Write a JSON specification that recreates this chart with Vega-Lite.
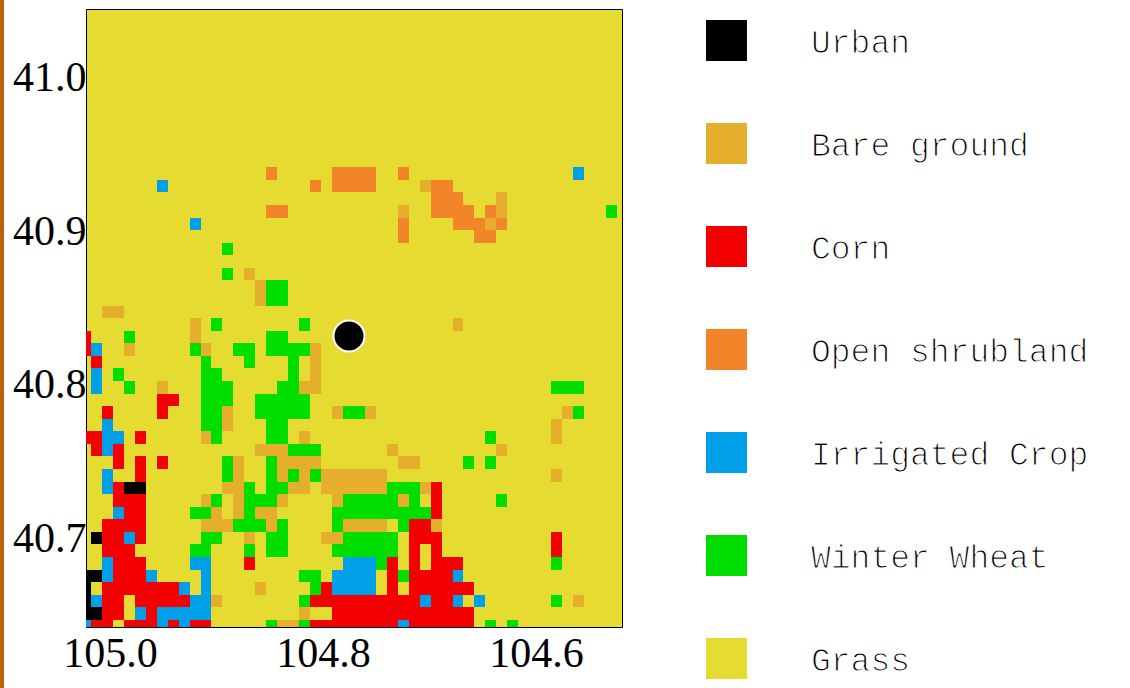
{"$schema":"https://vega.github.io/schema/vega-lite/v6.json","width":536,"height":618,"autosize":{"type":"none"},"padding":{"left":86,"top":9,"right":508,"bottom":61},"background":"#ffffff","view":{"fill":"#e6db30","stroke":"#000000","strokeWidth":1},
"datasets":{
"cols":[{"c":0,"lon":105.0281,"lon2":105.0178},{"c":1,"lon":105.0178,"lon2":105.0075},{"c":2,"lon":105.0075,"lon2":104.9972},{"c":3,"lon":104.9972,"lon2":104.987},{"c":4,"lon":104.987,"lon2":104.9767},{"c":5,"lon":104.9767,"lon2":104.9664},{"c":6,"lon":104.9664,"lon2":104.9561},{"c":7,"lon":104.9561,"lon2":104.9458},{"c":8,"lon":104.9458,"lon2":104.9355},{"c":9,"lon":104.9355,"lon2":104.9253},{"c":10,"lon":104.9253,"lon2":104.915},{"c":11,"lon":104.915,"lon2":104.9047},{"c":12,"lon":104.9047,"lon2":104.8944},{"c":13,"lon":104.8944,"lon2":104.8841},{"c":14,"lon":104.8841,"lon2":104.8738},{"c":15,"lon":104.8738,"lon2":104.8635},{"c":16,"lon":104.8635,"lon2":104.8533},{"c":17,"lon":104.8533,"lon2":104.843},{"c":18,"lon":104.843,"lon2":104.8327},{"c":19,"lon":104.8327,"lon2":104.8224},{"c":20,"lon":104.8224,"lon2":104.8121},{"c":21,"lon":104.8121,"lon2":104.8018},{"c":22,"lon":104.8018,"lon2":104.7916},{"c":23,"lon":104.7916,"lon2":104.7813},{"c":24,"lon":104.7813,"lon2":104.771},{"c":25,"lon":104.771,"lon2":104.7607},{"c":26,"lon":104.7607,"lon2":104.7504},{"c":27,"lon":104.7504,"lon2":104.7401},{"c":28,"lon":104.7401,"lon2":104.7298},{"c":29,"lon":104.7298,"lon2":104.7196},{"c":30,"lon":104.7196,"lon2":104.7093},{"c":31,"lon":104.7093,"lon2":104.699},{"c":32,"lon":104.699,"lon2":104.6887},{"c":33,"lon":104.6887,"lon2":104.6784},{"c":34,"lon":104.6784,"lon2":104.6681},{"c":35,"lon":104.6681,"lon2":104.6578},{"c":36,"lon":104.6578,"lon2":104.6476},{"c":37,"lon":104.6476,"lon2":104.6373},{"c":38,"lon":104.6373,"lon2":104.627},{"c":39,"lon":104.627,"lon2":104.6167},{"c":43,"lon":104.5859,"lon2":104.5756},{"c":44,"lon":104.5756,"lon2":104.5653},{"c":45,"lon":104.5653,"lon2":104.555},{"c":48,"lon":104.5344,"lon2":104.5241}],
"rows":[{"r":0,"lat":40.6385,"lat2":40.6467},{"r":1,"lat":40.6467,"lat2":40.6549},{"r":2,"lat":40.6549,"lat2":40.6631},{"r":3,"lat":40.6631,"lat2":40.6712},{"r":4,"lat":40.6712,"lat2":40.6794},{"r":5,"lat":40.6794,"lat2":40.6876},{"r":6,"lat":40.6876,"lat2":40.6958},{"r":7,"lat":40.6958,"lat2":40.704},{"r":8,"lat":40.704,"lat2":40.7122},{"r":9,"lat":40.7122,"lat2":40.7204},{"r":10,"lat":40.7204,"lat2":40.7285},{"r":11,"lat":40.7285,"lat2":40.7367},{"r":12,"lat":40.7367,"lat2":40.7449},{"r":13,"lat":40.7449,"lat2":40.7531},{"r":14,"lat":40.7531,"lat2":40.7613},{"r":15,"lat":40.7613,"lat2":40.7695},{"r":16,"lat":40.7695,"lat2":40.7776},{"r":17,"lat":40.7776,"lat2":40.7858},{"r":18,"lat":40.7858,"lat2":40.794},{"r":19,"lat":40.794,"lat2":40.8022},{"r":20,"lat":40.8022,"lat2":40.8104},{"r":21,"lat":40.8104,"lat2":40.8186},{"r":22,"lat":40.8186,"lat2":40.8268},{"r":23,"lat":40.8268,"lat2":40.8349},{"r":24,"lat":40.8349,"lat2":40.8431},{"r":25,"lat":40.8431,"lat2":40.8513},{"r":26,"lat":40.8513,"lat2":40.8595},{"r":27,"lat":40.8595,"lat2":40.8677},{"r":28,"lat":40.8677,"lat2":40.8759},{"r":30,"lat":40.8841,"lat2":40.8922},{"r":31,"lat":40.8922,"lat2":40.9004},{"r":32,"lat":40.9004,"lat2":40.9086},{"r":33,"lat":40.9086,"lat2":40.9168},{"r":34,"lat":40.9168,"lat2":40.925},{"r":35,"lat":40.925,"lat2":40.9332},{"r":36,"lat":40.9332,"lat2":40.9413}],
"cells":[
{"r":0,"c":0,"t":"Irrigated Crop"},{"r":0,"c":1,"t":"Corn"},{"r":0,"c":2,"t":"Corn"},{"r":0,"c":4,"t":"Corn"},{"r":0,"c":5,"t":"Corn"},{"r":0,"c":6,"t":"Corn"},{"r":0,"c":7,"t":"Irrigated Crop"},{"r":0,"c":8,"t":"Corn"},{"r":0,"c":9,"t":"Irrigated Crop"},{"r":0,"c":10,"t":"Corn"},{"r":0,"c":11,"t":"Corn"},{"r":0,"c":17,"t":"Winter Wheat"},{"r":0,"c":18,"t":"Bare ground"},{"r":0,"c":19,"t":"Bare ground"},{"r":0,"c":20,"t":"Winter Wheat"},{"r":0,"c":21,"t":"Corn"},{"r":0,"c":22,"t":"Corn"},{"r":0,"c":23,"t":"Corn"},{"r":0,"c":24,"t":"Corn"},{"r":0,"c":25,"t":"Corn"},{"r":0,"c":26,"t":"Corn"},{"r":0,"c":27,"t":"Corn"},{"r":0,"c":28,"t":"Corn"},{"r":0,"c":29,"t":"Irrigated Crop"},{"r":0,"c":30,"t":"Corn"},{"r":0,"c":31,"t":"Corn"},{"r":0,"c":32,"t":"Corn"},{"r":0,"c":33,"t":"Corn"},{"r":0,"c":34,"t":"Corn"},{"r":0,"c":35,"t":"Corn"},{"r":0,"c":37,"t":"Winter Wheat"},{"r":0,"c":39,"t":"Winter Wheat"},
{"r":1,"c":0,"t":"Urban"},{"r":1,"c":1,"t":"Urban"},{"r":1,"c":2,"t":"Corn"},{"r":1,"c":3,"t":"Corn"},{"r":1,"c":5,"t":"Irrigated Crop"},{"r":1,"c":6,"t":"Corn"},{"r":1,"c":7,"t":"Irrigated Crop"},{"r":1,"c":8,"t":"Irrigated Crop"},{"r":1,"c":9,"t":"Irrigated Crop"},{"r":1,"c":10,"t":"Irrigated Crop"},{"r":1,"c":11,"t":"Irrigated Crop"},{"r":1,"c":20,"t":"Bare ground"},{"r":1,"c":23,"t":"Corn"},{"r":1,"c":24,"t":"Corn"},{"r":1,"c":25,"t":"Corn"},{"r":1,"c":26,"t":"Corn"},{"r":1,"c":27,"t":"Corn"},{"r":1,"c":28,"t":"Corn"},{"r":1,"c":29,"t":"Corn"},{"r":1,"c":30,"t":"Corn"},{"r":1,"c":31,"t":"Corn"},{"r":1,"c":32,"t":"Corn"},{"r":1,"c":33,"t":"Corn"},{"r":1,"c":34,"t":"Corn"},{"r":1,"c":35,"t":"Corn"},
{"r":2,"c":0,"t":"Urban"},{"r":2,"c":1,"t":"Irrigated Crop"},{"r":2,"c":2,"t":"Corn"},{"r":2,"c":3,"t":"Corn"},{"r":2,"c":5,"t":"Corn"},{"r":2,"c":6,"t":"Corn"},{"r":2,"c":7,"t":"Corn"},{"r":2,"c":8,"t":"Corn"},{"r":2,"c":9,"t":"Corn"},{"r":2,"c":10,"t":"Irrigated Crop"},{"r":2,"c":11,"t":"Irrigated Crop"},{"r":2,"c":12,"t":"Bare ground"},{"r":2,"c":20,"t":"Winter Wheat"},{"r":2,"c":21,"t":"Corn"},{"r":2,"c":22,"t":"Corn"},{"r":2,"c":23,"t":"Corn"},{"r":2,"c":24,"t":"Corn"},{"r":2,"c":25,"t":"Corn"},{"r":2,"c":26,"t":"Corn"},{"r":2,"c":27,"t":"Corn"},{"r":2,"c":28,"t":"Corn"},{"r":2,"c":29,"t":"Corn"},{"r":2,"c":30,"t":"Corn"},{"r":2,"c":31,"t":"Irrigated Crop"},{"r":2,"c":32,"t":"Corn"},{"r":2,"c":33,"t":"Corn"},{"r":2,"c":34,"t":"Irrigated Crop"},{"r":2,"c":36,"t":"Irrigated Crop"},{"r":2,"c":43,"t":"Winter Wheat"},{"r":2,"c":45,"t":"Bare ground"},
{"r":3,"c":0,"t":"Urban"},{"r":3,"c":2,"t":"Corn"},{"r":3,"c":3,"t":"Corn"},{"r":3,"c":4,"t":"Corn"},{"r":3,"c":5,"t":"Corn"},{"r":3,"c":6,"t":"Corn"},{"r":3,"c":7,"t":"Corn"},{"r":3,"c":8,"t":"Corn"},{"r":3,"c":9,"t":"Irrigated Crop"},{"r":3,"c":11,"t":"Irrigated Crop"},{"r":3,"c":16,"t":"Bare ground"},{"r":3,"c":21,"t":"Winter Wheat"},{"r":3,"c":22,"t":"Corn"},{"r":3,"c":23,"t":"Irrigated Crop"},{"r":3,"c":24,"t":"Irrigated Crop"},{"r":3,"c":25,"t":"Irrigated Crop"},{"r":3,"c":26,"t":"Irrigated Crop"},{"r":3,"c":28,"t":"Corn"},{"r":3,"c":30,"t":"Corn"},{"r":3,"c":31,"t":"Corn"},{"r":3,"c":32,"t":"Corn"},{"r":3,"c":33,"t":"Corn"},{"r":3,"c":34,"t":"Corn"},{"r":3,"c":35,"t":"Corn"},
{"r":4,"c":0,"t":"Urban"},{"r":4,"c":1,"t":"Urban"},{"r":4,"c":2,"t":"Irrigated Crop"},{"r":4,"c":3,"t":"Corn"},{"r":4,"c":4,"t":"Corn"},{"r":4,"c":5,"t":"Corn"},{"r":4,"c":6,"t":"Irrigated Crop"},{"r":4,"c":11,"t":"Irrigated Crop"},{"r":4,"c":20,"t":"Winter Wheat"},{"r":4,"c":21,"t":"Winter Wheat"},{"r":4,"c":23,"t":"Irrigated Crop"},{"r":4,"c":24,"t":"Irrigated Crop"},{"r":4,"c":25,"t":"Irrigated Crop"},{"r":4,"c":26,"t":"Irrigated Crop"},{"r":4,"c":28,"t":"Corn"},{"r":4,"c":29,"t":"Winter Wheat"},{"r":4,"c":30,"t":"Corn"},{"r":4,"c":31,"t":"Corn"},{"r":4,"c":32,"t":"Corn"},{"r":4,"c":33,"t":"Corn"},{"r":4,"c":34,"t":"Irrigated Crop"},
{"r":5,"c":2,"t":"Irrigated Crop"},{"r":5,"c":3,"t":"Corn"},{"r":5,"c":4,"t":"Corn"},{"r":5,"c":5,"t":"Corn"},{"r":5,"c":10,"t":"Irrigated Crop"},{"r":5,"c":11,"t":"Irrigated Crop"},{"r":5,"c":15,"t":"Corn"},{"r":5,"c":24,"t":"Irrigated Crop"},{"r":5,"c":25,"t":"Irrigated Crop"},{"r":5,"c":26,"t":"Irrigated Crop"},{"r":5,"c":27,"t":"Winter Wheat"},{"r":5,"c":28,"t":"Corn"},{"r":5,"c":30,"t":"Corn"},{"r":5,"c":32,"t":"Corn"},{"r":5,"c":33,"t":"Corn"},{"r":5,"c":34,"t":"Corn"},{"r":5,"c":43,"t":"Winter Wheat"},
{"r":6,"c":2,"t":"Corn"},{"r":6,"c":3,"t":"Corn"},{"r":6,"c":4,"t":"Corn"},{"r":6,"c":10,"t":"Winter Wheat"},{"r":6,"c":11,"t":"Winter Wheat"},{"r":6,"c":15,"t":"Winter Wheat"},{"r":6,"c":17,"t":"Winter Wheat"},{"r":6,"c":18,"t":"Winter Wheat"},{"r":6,"c":23,"t":"Winter Wheat"},{"r":6,"c":24,"t":"Winter Wheat"},{"r":6,"c":25,"t":"Winter Wheat"},{"r":6,"c":26,"t":"Winter Wheat"},{"r":6,"c":27,"t":"Winter Wheat"},{"r":6,"c":28,"t":"Winter Wheat"},{"r":6,"c":30,"t":"Corn"},{"r":6,"c":32,"t":"Corn"},{"r":6,"c":43,"t":"Corn"},
{"r":7,"c":1,"t":"Urban"},{"r":7,"c":2,"t":"Corn"},{"r":7,"c":3,"t":"Corn"},{"r":7,"c":4,"t":"Irrigated Crop"},{"r":7,"c":5,"t":"Corn"},{"r":7,"c":11,"t":"Winter Wheat"},{"r":7,"c":12,"t":"Winter Wheat"},{"r":7,"c":15,"t":"Bare ground"},{"r":7,"c":17,"t":"Winter Wheat"},{"r":7,"c":18,"t":"Winter Wheat"},{"r":7,"c":22,"t":"Bare ground"},{"r":7,"c":23,"t":"Bare ground"},{"r":7,"c":24,"t":"Winter Wheat"},{"r":7,"c":25,"t":"Winter Wheat"},{"r":7,"c":26,"t":"Winter Wheat"},{"r":7,"c":27,"t":"Winter Wheat"},{"r":7,"c":28,"t":"Winter Wheat"},{"r":7,"c":30,"t":"Corn"},{"r":7,"c":31,"t":"Corn"},{"r":7,"c":32,"t":"Corn"},{"r":7,"c":43,"t":"Corn"},
{"r":8,"c":2,"t":"Corn"},{"r":8,"c":3,"t":"Corn"},{"r":8,"c":4,"t":"Corn"},{"r":8,"c":5,"t":"Corn"},{"r":8,"c":11,"t":"Bare ground"},{"r":8,"c":12,"t":"Bare ground"},{"r":8,"c":13,"t":"Bare ground"},{"r":8,"c":14,"t":"Winter Wheat"},{"r":8,"c":15,"t":"Winter Wheat"},{"r":8,"c":16,"t":"Winter Wheat"},{"r":8,"c":17,"t":"Bare ground"},{"r":8,"c":18,"t":"Winter Wheat"},{"r":8,"c":23,"t":"Winter Wheat"},{"r":8,"c":24,"t":"Bare ground"},{"r":8,"c":25,"t":"Bare ground"},{"r":8,"c":26,"t":"Bare ground"},{"r":8,"c":27,"t":"Bare ground"},{"r":8,"c":29,"t":"Winter Wheat"},{"r":8,"c":30,"t":"Corn"},{"r":8,"c":31,"t":"Corn"},{"r":8,"c":32,"t":"Bare ground"},
{"r":9,"c":3,"t":"Irrigated Crop"},{"r":9,"c":4,"t":"Corn"},{"r":9,"c":5,"t":"Corn"},{"r":9,"c":10,"t":"Winter Wheat"},{"r":9,"c":11,"t":"Winter Wheat"},{"r":9,"c":12,"t":"Bare ground"},{"r":9,"c":14,"t":"Bare ground"},{"r":9,"c":15,"t":"Winter Wheat"},{"r":9,"c":16,"t":"Bare ground"},{"r":9,"c":17,"t":"Bare ground"},{"r":9,"c":23,"t":"Winter Wheat"},{"r":9,"c":24,"t":"Winter Wheat"},{"r":9,"c":25,"t":"Winter Wheat"},{"r":9,"c":26,"t":"Winter Wheat"},{"r":9,"c":27,"t":"Winter Wheat"},{"r":9,"c":28,"t":"Winter Wheat"},{"r":9,"c":29,"t":"Winter Wheat"},{"r":9,"c":30,"t":"Winter Wheat"},{"r":9,"c":31,"t":"Winter Wheat"},{"r":9,"c":32,"t":"Corn"},
{"r":10,"c":3,"t":"Corn"},{"r":10,"c":4,"t":"Corn"},{"r":10,"c":5,"t":"Corn"},{"r":10,"c":11,"t":"Bare ground"},{"r":10,"c":12,"t":"Winter Wheat"},{"r":10,"c":14,"t":"Bare ground"},{"r":10,"c":15,"t":"Winter Wheat"},{"r":10,"c":16,"t":"Winter Wheat"},{"r":10,"c":17,"t":"Winter Wheat"},{"r":10,"c":18,"t":"Bare ground"},{"r":10,"c":23,"t":"Bare ground"},{"r":10,"c":24,"t":"Winter Wheat"},{"r":10,"c":25,"t":"Winter Wheat"},{"r":10,"c":26,"t":"Winter Wheat"},{"r":10,"c":27,"t":"Winter Wheat"},{"r":10,"c":28,"t":"Winter Wheat"},{"r":10,"c":29,"t":"Bare ground"},{"r":10,"c":30,"t":"Winter Wheat"},{"r":10,"c":32,"t":"Corn"},{"r":10,"c":38,"t":"Winter Wheat"},
{"r":11,"c":2,"t":"Irrigated Crop"},{"r":11,"c":3,"t":"Corn"},{"r":11,"c":4,"t":"Urban"},{"r":11,"c":5,"t":"Urban"},{"r":11,"c":13,"t":"Bare ground"},{"r":11,"c":14,"t":"Bare ground"},{"r":11,"c":15,"t":"Winter Wheat"},{"r":11,"c":17,"t":"Winter Wheat"},{"r":11,"c":18,"t":"Winter Wheat"},{"r":11,"c":19,"t":"Bare ground"},{"r":11,"c":20,"t":"Bare ground"},{"r":11,"c":22,"t":"Bare ground"},{"r":11,"c":23,"t":"Bare ground"},{"r":11,"c":24,"t":"Bare ground"},{"r":11,"c":25,"t":"Bare ground"},{"r":11,"c":26,"t":"Bare ground"},{"r":11,"c":27,"t":"Bare ground"},{"r":11,"c":28,"t":"Winter Wheat"},{"r":11,"c":29,"t":"Winter Wheat"},{"r":11,"c":30,"t":"Winter Wheat"},{"r":11,"c":31,"t":"Bare ground"},{"r":11,"c":32,"t":"Corn"},
{"r":12,"c":2,"t":"Irrigated Crop"},{"r":12,"c":5,"t":"Corn"},{"r":12,"c":13,"t":"Winter Wheat"},{"r":12,"c":14,"t":"Bare ground"},{"r":12,"c":17,"t":"Winter Wheat"},{"r":12,"c":18,"t":"Bare ground"},{"r":12,"c":19,"t":"Winter Wheat"},{"r":12,"c":20,"t":"Bare ground"},{"r":12,"c":21,"t":"Winter Wheat"},{"r":12,"c":22,"t":"Bare ground"},{"r":12,"c":23,"t":"Bare ground"},{"r":12,"c":24,"t":"Bare ground"},{"r":12,"c":25,"t":"Bare ground"},{"r":12,"c":26,"t":"Bare ground"},{"r":12,"c":27,"t":"Bare ground"},{"r":12,"c":43,"t":"Bare ground"},
{"r":13,"c":3,"t":"Corn"},{"r":13,"c":5,"t":"Corn"},{"r":13,"c":7,"t":"Corn"},{"r":13,"c":13,"t":"Winter Wheat"},{"r":13,"c":14,"t":"Bare ground"},{"r":13,"c":17,"t":"Winter Wheat"},{"r":13,"c":18,"t":"Bare ground"},{"r":13,"c":19,"t":"Bare ground"},{"r":13,"c":20,"t":"Bare ground"},{"r":13,"c":21,"t":"Bare ground"},{"r":13,"c":29,"t":"Bare ground"},{"r":13,"c":30,"t":"Bare ground"},{"r":13,"c":35,"t":"Winter Wheat"},{"r":13,"c":37,"t":"Winter Wheat"},
{"r":14,"c":1,"t":"Corn"},{"r":14,"c":2,"t":"Irrigated Crop"},{"r":14,"c":3,"t":"Corn"},{"r":14,"c":16,"t":"Bare ground"},{"r":14,"c":17,"t":"Bare ground"},{"r":14,"c":18,"t":"Bare ground"},{"r":14,"c":19,"t":"Winter Wheat"},{"r":14,"c":20,"t":"Winter Wheat"},{"r":14,"c":21,"t":"Winter Wheat"},{"r":14,"c":28,"t":"Bare ground"},{"r":14,"c":38,"t":"Bare ground"},
{"r":15,"c":0,"t":"Corn"},{"r":15,"c":1,"t":"Corn"},{"r":15,"c":2,"t":"Irrigated Crop"},{"r":15,"c":3,"t":"Irrigated Crop"},{"r":15,"c":5,"t":"Corn"},{"r":15,"c":11,"t":"Bare ground"},{"r":15,"c":12,"t":"Winter Wheat"},{"r":15,"c":17,"t":"Winter Wheat"},{"r":15,"c":18,"t":"Winter Wheat"},{"r":15,"c":20,"t":"Bare ground"},{"r":15,"c":37,"t":"Winter Wheat"},{"r":15,"c":43,"t":"Bare ground"},
{"r":16,"c":2,"t":"Irrigated Crop"},{"r":16,"c":11,"t":"Winter Wheat"},{"r":16,"c":12,"t":"Winter Wheat"},{"r":16,"c":13,"t":"Bare ground"},{"r":16,"c":17,"t":"Winter Wheat"},{"r":16,"c":18,"t":"Winter Wheat"},{"r":16,"c":43,"t":"Bare ground"},
{"r":17,"c":2,"t":"Corn"},{"r":17,"c":7,"t":"Corn"},{"r":17,"c":11,"t":"Winter Wheat"},{"r":17,"c":12,"t":"Winter Wheat"},{"r":17,"c":13,"t":"Bare ground"},{"r":17,"c":16,"t":"Winter Wheat"},{"r":17,"c":17,"t":"Winter Wheat"},{"r":17,"c":18,"t":"Winter Wheat"},{"r":17,"c":19,"t":"Winter Wheat"},{"r":17,"c":20,"t":"Winter Wheat"},{"r":17,"c":23,"t":"Bare ground"},{"r":17,"c":24,"t":"Winter Wheat"},{"r":17,"c":25,"t":"Winter Wheat"},{"r":17,"c":26,"t":"Bare ground"},{"r":17,"c":44,"t":"Bare ground"},{"r":17,"c":45,"t":"Winter Wheat"},
{"r":18,"c":7,"t":"Corn"},{"r":18,"c":8,"t":"Corn"},{"r":18,"c":11,"t":"Winter Wheat"},{"r":18,"c":12,"t":"Winter Wheat"},{"r":18,"c":13,"t":"Winter Wheat"},{"r":18,"c":16,"t":"Winter Wheat"},{"r":18,"c":17,"t":"Winter Wheat"},{"r":18,"c":18,"t":"Winter Wheat"},{"r":18,"c":19,"t":"Winter Wheat"},{"r":18,"c":20,"t":"Winter Wheat"},
{"r":19,"c":1,"t":"Irrigated Crop"},{"r":19,"c":4,"t":"Winter Wheat"},{"r":19,"c":7,"t":"Bare ground"},{"r":19,"c":11,"t":"Winter Wheat"},{"r":19,"c":12,"t":"Winter Wheat"},{"r":19,"c":13,"t":"Winter Wheat"},{"r":19,"c":18,"t":"Winter Wheat"},{"r":19,"c":19,"t":"Winter Wheat"},{"r":19,"c":20,"t":"Bare ground"},{"r":19,"c":21,"t":"Bare ground"},{"r":19,"c":43,"t":"Winter Wheat"},{"r":19,"c":44,"t":"Winter Wheat"},{"r":19,"c":45,"t":"Winter Wheat"},
{"r":20,"c":1,"t":"Irrigated Crop"},{"r":20,"c":3,"t":"Winter Wheat"},{"r":20,"c":11,"t":"Winter Wheat"},{"r":20,"c":12,"t":"Winter Wheat"},{"r":20,"c":19,"t":"Winter Wheat"},{"r":20,"c":21,"t":"Bare ground"},
{"r":21,"c":1,"t":"Corn"},{"r":21,"c":11,"t":"Winter Wheat"},{"r":21,"c":15,"t":"Winter Wheat"},{"r":21,"c":19,"t":"Winter Wheat"},{"r":21,"c":21,"t":"Bare ground"},
{"r":22,"c":0,"t":"Corn"},{"r":22,"c":1,"t":"Irrigated Crop"},{"r":22,"c":4,"t":"Bare ground"},{"r":22,"c":10,"t":"Winter Wheat"},{"r":22,"c":11,"t":"Bare ground"},{"r":22,"c":14,"t":"Winter Wheat"},{"r":22,"c":15,"t":"Winter Wheat"},{"r":22,"c":17,"t":"Winter Wheat"},{"r":22,"c":18,"t":"Winter Wheat"},{"r":22,"c":19,"t":"Winter Wheat"},{"r":22,"c":20,"t":"Winter Wheat"},{"r":22,"c":21,"t":"Bare ground"},
{"r":23,"c":0,"t":"Corn"},{"r":23,"c":4,"t":"Winter Wheat"},{"r":23,"c":10,"t":"Bare ground"},{"r":23,"c":17,"t":"Winter Wheat"},{"r":23,"c":18,"t":"Winter Wheat"},
{"r":24,"c":10,"t":"Bare ground"},{"r":24,"c":12,"t":"Winter Wheat"},{"r":24,"c":20,"t":"Winter Wheat"},{"r":24,"c":34,"t":"Bare ground"},
{"r":25,"c":2,"t":"Bare ground"},{"r":25,"c":3,"t":"Bare ground"},
{"r":26,"c":16,"t":"Bare ground"},{"r":26,"c":17,"t":"Winter Wheat"},{"r":26,"c":18,"t":"Winter Wheat"},
{"r":27,"c":16,"t":"Bare ground"},{"r":27,"c":17,"t":"Winter Wheat"},{"r":27,"c":18,"t":"Winter Wheat"},
{"r":28,"c":13,"t":"Winter Wheat"},{"r":28,"c":15,"t":"Bare ground"},
{"r":30,"c":13,"t":"Winter Wheat"},
{"r":31,"c":29,"t":"Open shrubland"},{"r":31,"c":36,"t":"Open shrubland"},{"r":31,"c":37,"t":"Open shrubland"},
{"r":32,"c":10,"t":"Irrigated Crop"},{"r":32,"c":29,"t":"Open shrubland"},{"r":32,"c":34,"t":"Open shrubland"},{"r":32,"c":35,"t":"Open shrubland"},{"r":32,"c":36,"t":"Open shrubland"},{"r":32,"c":37,"t":"Bare ground"},{"r":32,"c":38,"t":"Open shrubland"},
{"r":33,"c":17,"t":"Open shrubland"},{"r":33,"c":18,"t":"Open shrubland"},{"r":33,"c":29,"t":"Bare ground"},{"r":33,"c":32,"t":"Open shrubland"},{"r":33,"c":33,"t":"Open shrubland"},{"r":33,"c":34,"t":"Open shrubland"},{"r":33,"c":35,"t":"Open shrubland"},{"r":33,"c":37,"t":"Open shrubland"},{"r":33,"c":38,"t":"Bare ground"},{"r":33,"c":48,"t":"Winter Wheat"},
{"r":34,"c":32,"t":"Open shrubland"},{"r":34,"c":33,"t":"Open shrubland"},{"r":34,"c":34,"t":"Open shrubland"},{"r":34,"c":38,"t":"Bare ground"},
{"r":35,"c":7,"t":"Irrigated Crop"},{"r":35,"c":21,"t":"Open shrubland"},{"r":35,"c":23,"t":"Open shrubland"},{"r":35,"c":24,"t":"Open shrubland"},{"r":35,"c":25,"t":"Open shrubland"},{"r":35,"c":26,"t":"Open shrubland"},{"r":35,"c":31,"t":"Bare ground"},{"r":35,"c":32,"t":"Open shrubland"},{"r":35,"c":33,"t":"Open shrubland"},
{"r":36,"c":17,"t":"Open shrubland"},{"r":36,"c":23,"t":"Open shrubland"},{"r":36,"c":24,"t":"Open shrubland"},{"r":36,"c":25,"t":"Open shrubland"},{"r":36,"c":26,"t":"Open shrubland"},{"r":36,"c":29,"t":"Open shrubland"},{"r":36,"c":45,"t":"Irrigated Crop"}
]},
"config":{"axis":{"labelFont":"Liberation Serif","labelFontSize":42,"labelColor":"#000000","grid":false,"domain":false,"ticks":false,"tickSize":0,"title":null,"labelOverlap":false,"labelFlush":false}},
"layer":[
{"data":{"values":[{"lon":105.1014,"top":41.0501,"bottom":40.6024}]},"mark":{"type":"rule","clip":false,"strokeWidth":4,"color":"#b9610d"},"encoding":{"x":{"field":"lon","type":"quantitative"},"y":{"field":"top","type":"quantitative"},"y2":{"field":"bottom"}}},
{"data":{"name":"cells"},"transform":[{"lookup":"c","from":{"data":{"name":"cols"},"key":"c","fields":["lon","lon2"]}},{"lookup":"r","from":{"data":{"name":"rows"},"key":"r","fields":["lat","lat2"]}}],
"mark":{"type":"rect","clip":true,"opacity":1},
"encoding":{
"x":{"field":"lon","type":"quantitative","scale":{"domain":[105.02254,104.51925],"nice":false,"zero":false,"round":true},"axis":{"values":[105.0,104.8,104.6],"format":".1f","labelPadding":6,"labelAngle":0}},
"x2":{"field":"lon2"},
"y":{"field":"lat","type":"quantitative","scale":{"domain":[40.6421,41.0443],"nice":false,"zero":false,"round":true},"axis":{"values":[41.0,40.9,40.8,40.7],"format":".1f","labelPadding":0,"labelBaseline":"middle"}},
"y2":{"field":"lat2"},
"color":{"field":"t","type":"nominal","scale":{"domain":["Urban","Bare ground","Corn","Open shrubland","Irrigated Crop","Winter Wheat","Grass"],"range":["#000000","#e5af2d","#f50000","#f2842a","#00a0e8","#00de00","#e6db30"]},
"legend":{"title":null,"orient":"none","legendX":620,"legendY":11,"padding":0,"symbolType":"square","symbolSize":1681,"symbolStrokeWidth":0,"symbolOpacity":1,"labelFont":"Liberation Mono","labelFontSize":33,"labelColor":"#000000","labelOffset":64,"rowPadding":62,"labelLimit":400,"encoding":{"labels":{"stroke":{"value":"#ffffff"},"strokeWidth":{"value":1.2},"dy":{"value":2}}}}}}},
{"data":{"values":[{"lon":104.7756,"lat":40.8314,"name":"Station"}]},"mark":{"type":"point","filled":true,"fill":"#000000","stroke":"#ffffff","strokeWidth":2,"size":961,"opacity":1},"encoding":{"x":{"field":"lon","type":"quantitative"},"y":{"field":"lat","type":"quantitative"}}}
]}
